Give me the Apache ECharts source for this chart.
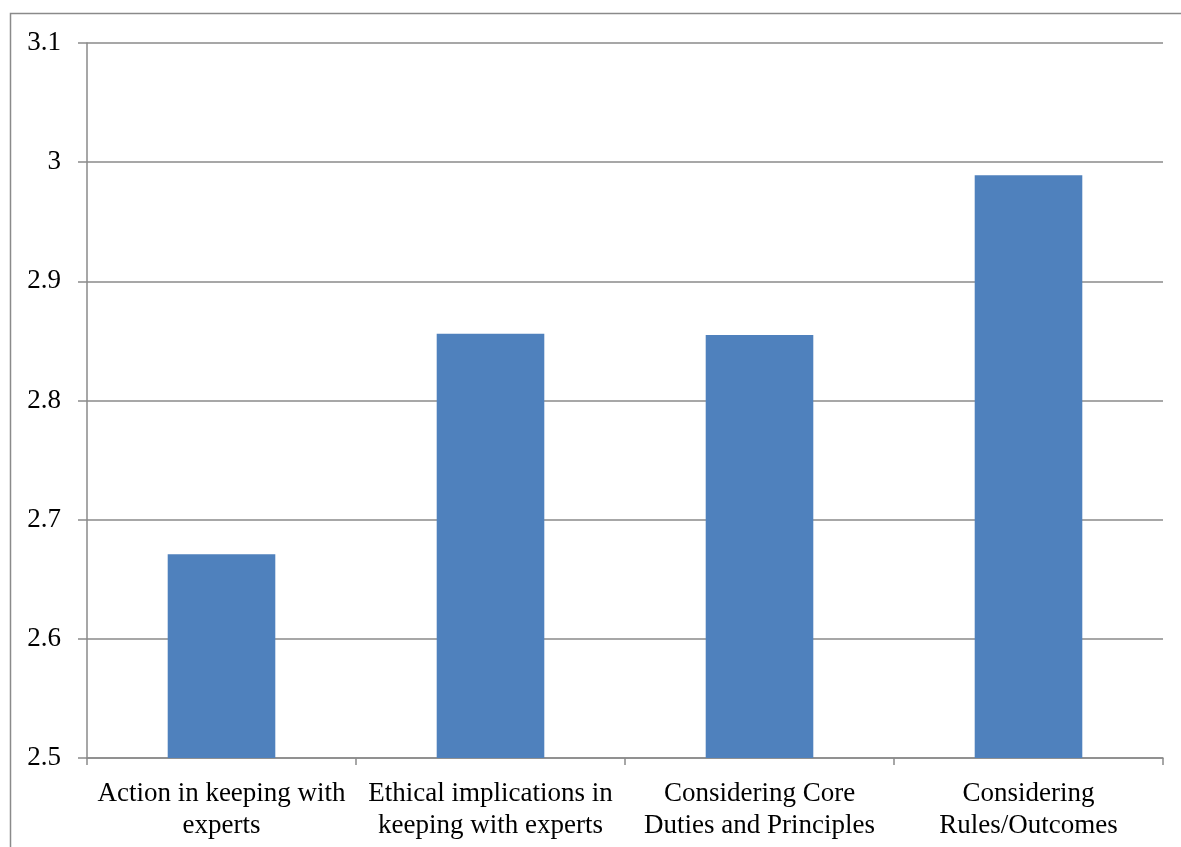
<!DOCTYPE html>
<html>
<head>
<meta charset="utf-8">
<script src="https://cdn.jsdelivr.net/npm/echarts@6/dist/echarts.min.js"></script>
<style>
html,body{margin:0;padding:0;background:#fff;}
#c{width:1181px;height:847px;}
</style>
</head>
<body>
<div id="c"></div>
<script>
const categories = [
  "Action in keeping with\nexperts",
  "Ethical implications in\nkeeping with experts",
  "Considering Core\nDuties and Principles",
  "Considering\nRules/Outcomes"
];
const values = [2.671, 2.856, 2.855, 2.989];
const yMin = 2.5, yMax = 3.1, yStep = 0.1;

const chart = echarts.init(document.getElementById('c'), null, {renderer:'canvas'});
const font = '"Liberation Serif", serif';
chart.setOption({
  animation:false,
  graphic:[{
    type:'rect', shape:{x:10.5,y:13.5,width:1200,height:900},
    style:{fill:'none',stroke:'#8a8a8a',lineWidth:1.5}, silent:true
  }],
  grid:{left:87,right:18,top:43,bottom:89,containLabel:false},
  xAxis:{
    type:'category', data:categories,
    axisLine:{lineStyle:{color:'#8a8a8a',width:1.5}},
    axisTick:{show:true,alignWithLabel:false,length:7,lineStyle:{color:'#8a8a8a',width:1.5}},
    axisLabel:{color:'#000',fontFamily:font,fontSize:27,lineHeight:32,margin:20,interval:0}
  },
  yAxis:{
    type:'value', min:yMin, max:yMax, interval:yStep,
    axisLine:{show:true,lineStyle:{color:'#8a8a8a',width:1.5}},
    axisTick:{show:true,inside:false,length:9,lineStyle:{color:'#8a8a8a',width:1.5}},
    splitLine:{show:true,lineStyle:{color:'#8a8a8a',width:1.5}},
    axisLabel:{color:'#000',fontFamily:font,fontSize:27,margin:26,
      formatter:v=>{const r=Math.round(v*10)/10; return Number.isInteger(r)?String(r):r.toFixed(1);}}
  },
  series:[{
    type:'bar', data:values, barWidth:'40%',
    itemStyle:{color:'#4f81bd'}
  }]
});
</script>
</body>
</html>
